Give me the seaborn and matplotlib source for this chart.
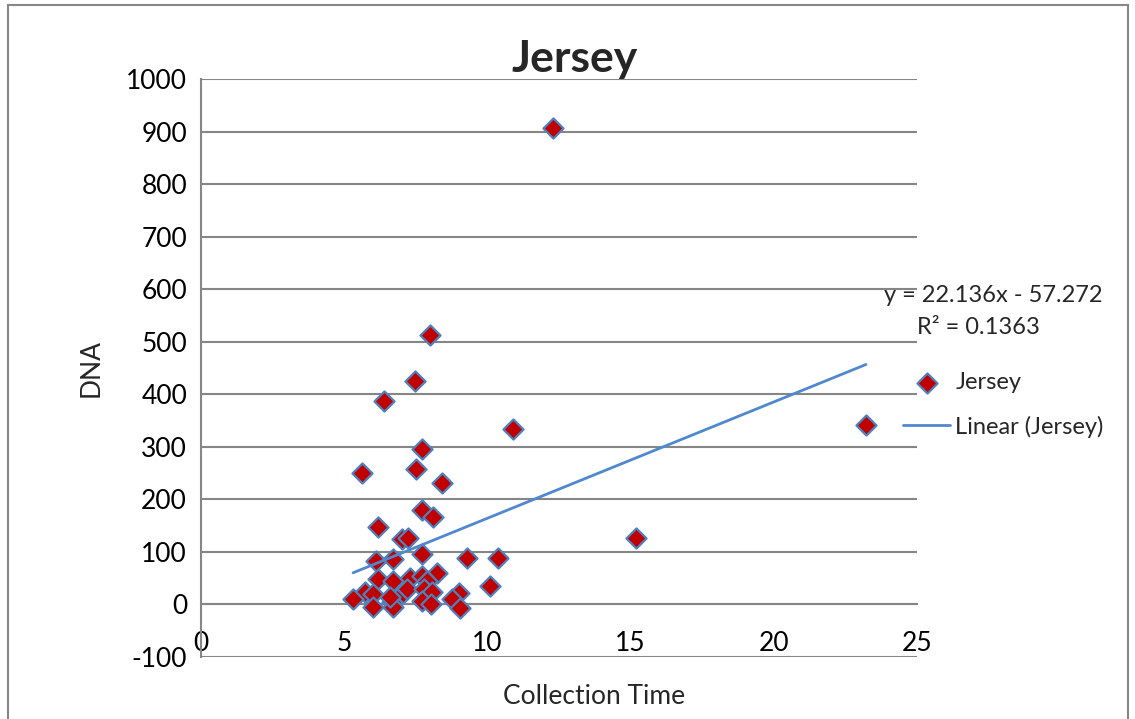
import numpy as np
import pandas as pd
import seaborn as sns
import matplotlib.pyplot as plt
from matplotlib.patches import Rectangle

# values
collection_time = [12.29, 8.00, 7.47, 6.39, 10.89, 7.72, 5.62, 7.51, 8.41, 23.22,
                   15.19, 7.72, 8.10, 6.18, 7.02, 7.23, 7.72, 9.29, 10.37, 6.11,
                   6.70, 8.24, 6.18, 6.70, 7.30, 7.72, 7.89, 10.09, 5.73, 5.31,
                   6.01, 7.19, 6.84, 6.67, 7.79, 8.07, 9.01, 8.76, 6.01, 7.72,
                   8.03, 9.04, 6.70, 6.60]
dna = [906, 512, 426, 388, 333, 295, 251, 257, 232, 341,
       127, 179, 166, 147, 124, 127, 97, 89, 89, 82,
       86, 59, 48, 44, 51, 55, 44, 36, 23, 11,
       19, 29, 10, 4, 29, 23, 21, 10, -4, 6,
       0, -6, -4, 15]

# trendline as reported in the chart
slope = 22.136
intercept = -57.272
r_squared = 0.1363

x_ticks = [0, 5, 10, 15, 20, 25]
y_ticks = list(range(-100, 1001, 100))

df = pd.DataFrame({'Collection Time': collection_time, 'DNA': dna})

sns.set_style("white")
plt.rcParams['font.family'] = ['Lato', 'DejaVu Sans']
plt.rcParams['axes.unicode_minus'] = False

fig = plt.figure(figsize=(11.35, 7.19), dpi=100)
ax = fig.add_axes([0.1771, 0.0862, 0.6308, 0.8039])

grid_col = '#868686'
marker_face = '#C00000'
marker_edge = '#4F81BD'
line_col = '#5088D0'
fs = 19
fs_side = 17

# outer chart border
fig.add_artist(Rectangle((8 / 1135, -0.05), (1128 - 8) / 1135, 1 - 5 / 719 + 0.05,
                         transform=fig.transFigure, fill=False,
                         edgecolor=grid_col, linewidth=1.5))

# horizontal gridlines
for yv in y_ticks:
    ax.axhline(yv, color=grid_col, linewidth=1.5, zorder=0)

sns.scatterplot(data=df, x='Collection Time', y='DNA', marker='D', s=105,
                color=marker_face, edgecolor=marker_edge, linewidth=1.6,
                ax=ax, zorder=3, label='Jersey', legend=False)

xs = np.array([min(collection_time), max(collection_time)])
ax.plot(xs, slope * xs + intercept, color=line_col, linewidth=2,
        zorder=4, label='Linear (Jersey)')

ax.set_xlim(0, 25)
ax.set_ylim(-100, 1000)
ax.set_xticks(x_ticks)
ax.set_yticks(y_ticks)
ax.tick_params(axis='both', labelsize=fs, colors=grid_col, labelcolor='black',
               length=7, width=1.5, direction='out')
ax.tick_params(axis='x', pad=12)
ax.tick_params(axis='y', pad=3)

for s in ['top', 'right']:
    ax.spines[s].set_visible(False)
ax.spines['bottom'].set_position(('data', 0))
ax.spines['bottom'].set_color(grid_col)
ax.spines['bottom'].set_linewidth(1.5)
ax.spines['left'].set_color(grid_col)
ax.spines['left'].set_linewidth(1.5)

ax.set_xlabel('')
ax.set_ylabel('DNA', fontsize=fs, labelpad=16)
fig.text(594 / 1135, 1 - 697 / 719, 'Collection Time',
         fontsize=fs, ha='center', va='center')
ax.set_title('Jersey', fontsize=32, fontweight='bold', pad=5, x=0.522)

fig.text(993 / 1135, 1 - 296 / 719, f'y = {slope}x - {abs(intercept)}',
         fontsize=fs_side, ha='center', va='center')
fig.text(978 / 1135, 1 - 328 / 719, f'R² = {r_squared}',
         fontsize=fs_side, ha='center', va='center')

fig.legend(loc='center left', bbox_to_anchor=(882 / 1135, 1 - 405 / 719),
           frameon=False, fontsize=fs_side, handlelength=2.0, labelspacing=0.95,
           handletextpad=0.2)

fig.savefig('out.png', dpi=100)
plt.close()
